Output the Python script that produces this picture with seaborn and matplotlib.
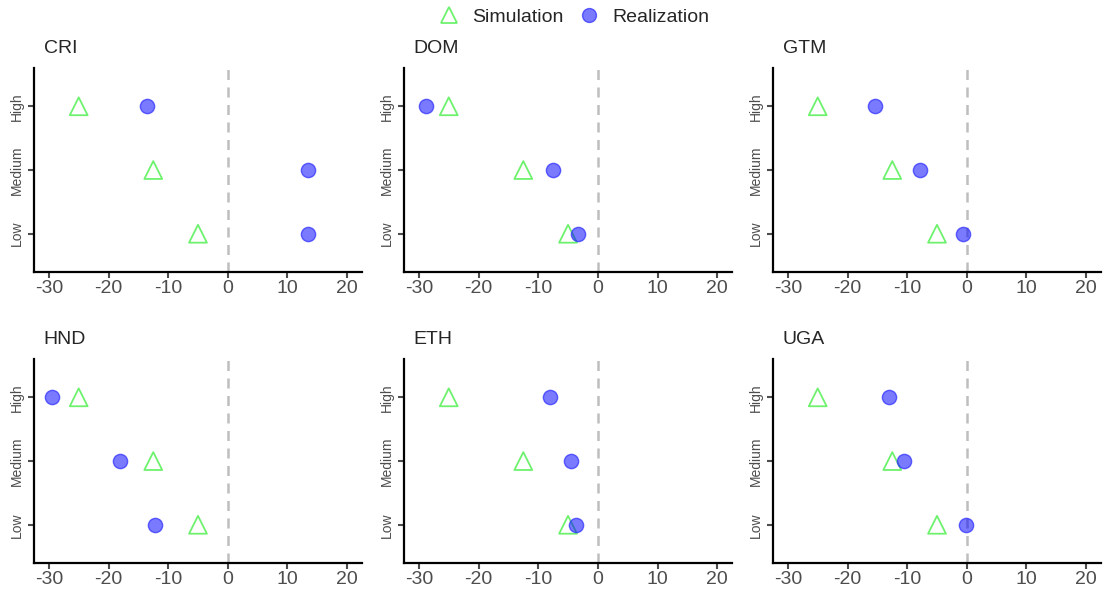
import pandas as pd
import matplotlib.pyplot as plt
import seaborn as sns
from matplotlib.lines import Line2D

# === Data ===
countries = ["CRI", "DOM", "GTM", "HND", "ETH", "UGA"]
levels = ["Low", "Medium", "High"]
simulation = [-5.0, -12.5, -25.0]  # same for every country (Low, Medium, High)
realization = {
    "CRI": [13.5, 13.5, -13.5],
    "DOM": [-3.3, -7.6, -28.8],
    "GTM": [-0.7, -7.9, -15.4],
    "HND": [-12.2, -18.1, -29.4],
    "ETH": [-3.6, -4.5, -8.1],
    "UGA": [-0.2, -10.6, -13.0],
}
x_ticks = [-30, -20, -10, 0, 10, 20]

rows = []
for c in countries:
    for lv, s, r in zip(levels, simulation, realization[c]):
        rows.append({"country": c, "level": lv, "series": "Simulation", "value": s})
        rows.append({"country": c, "level": lv, "series": "Realization", "value": r})
df = pd.DataFrame(rows)

sns.set_style("white")
plt.rcParams["font.family"] = ["Liberation Sans", "DejaVu Sans"]

SIM_COLOR = "#6EF26E"
REAL_FILL = (0.0, 0.0, 1.0, 0.52)
REAL_EDGE = (0.2, 0.2, 1.0, 0.75)

fig = plt.figure(figsize=(11.03, 5.98), dpi=100)

lefts = [0.0308, 0.3663, 0.7008]
bottoms = [0.5452, 0.0585]
w, h = 0.2974, 0.341

for i, c in enumerate(countries):
    ax = fig.add_axes([lefts[i % 3], bottoms[i // 3], w, h])
    sub = df[df["country"] == c]
    sim = sub[sub["series"] == "Simulation"]
    real = sub[sub["series"] == "Realization"]

    ax.axvline(0, color="#BEBEBE", lw=1.8, ls=(0, (4, 3)), zorder=1)
    sns.scatterplot(data=sim, x="value", y="level", marker="^", s=165,
                    facecolors="none", edgecolors=SIM_COLOR, linewidth=1.3,
                    ax=ax, zorder=3)
    sns.scatterplot(data=real, x="value", y="level", marker="o", s=105,
                    color=REAL_FILL, edgecolor=REAL_EDGE, linewidth=1.0,
                    ax=ax, zorder=4)

    ax.set_xlim(-32.5, 22.5)
    ax.set_ylim(-0.6, 2.6)
    ax.set_xticks(x_ticks)
    ax.set_xticklabels([str(t) for t in x_ticks])
    ax.set_xlabel("")
    ax.set_ylabel("")
    ax.tick_params(axis="x", labelsize=14, colors="#4D4D4D", length=4, width=1.5,
                   direction="out", pad=2, bottom=True)
    ax.tick_params(axis="y", labelsize=10, colors="#4D4D4D", length=4, width=1.5,
                   direction="out", pad=3, left=True)
    for lab in ax.get_yticklabels():
        lab.set_rotation(90)
        lab.set_va("center")
    for t in ax.xaxis.get_ticklines() + ax.yaxis.get_ticklines():
        t.set_color("#222222")
    sns.despine(ax=ax)
    for sp in ["left", "bottom"]:
        ax.spines[sp].set_linewidth(1.6)
        ax.spines[sp].set_color("black")
    ax.set_title(c, loc="left", fontsize=14, pad=11, x=0.03)

handles = [
    Line2D([], [], marker="^", ls="", markersize=12, markerfacecolor="none",
           markeredgecolor=SIM_COLOR, markeredgewidth=1.3, label="Simulation"),
    Line2D([], [], marker="o", ls="", markersize=10, markerfacecolor=REAL_FILL,
           markeredgecolor=REAL_EDGE, label="Realization"),
]
fig.legend(handles=handles, loc="upper center", bbox_to_anchor=(0.516, 1.015), ncol=2,
           frameon=False, fontsize=14, handletextpad=0.2, columnspacing=0.3)

plt.savefig("out.png", dpi=100)
plt.close()
